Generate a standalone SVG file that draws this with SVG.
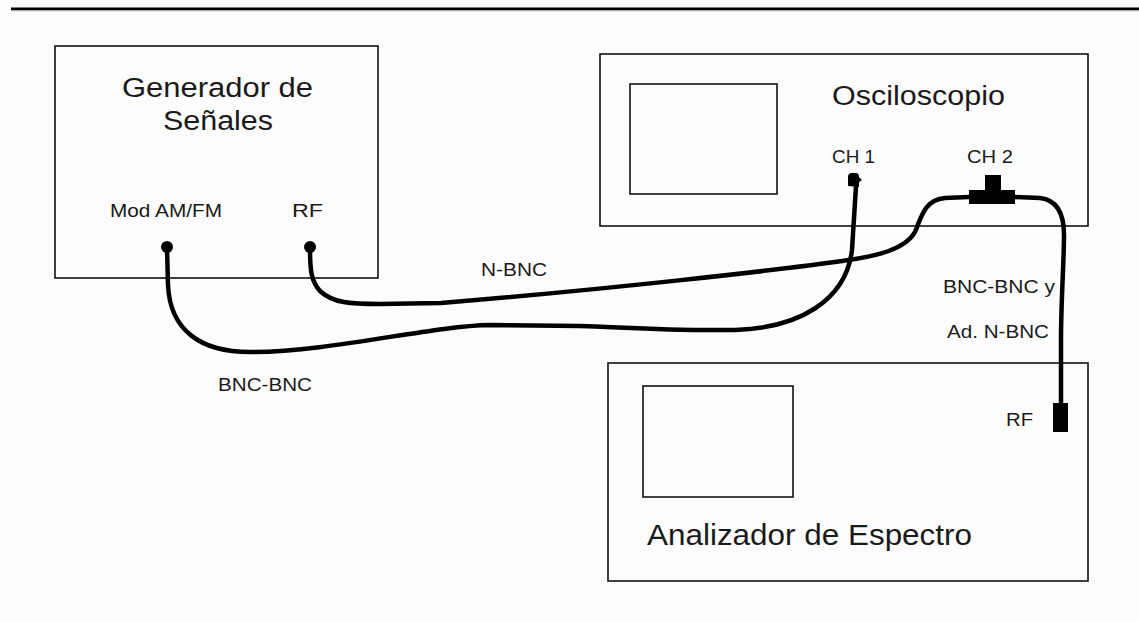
<svg xmlns="http://www.w3.org/2000/svg" width="1139" height="622" viewBox="0 0 1139 622">
<style>
.box{fill:none;stroke:#111;stroke-width:1.6}
.t{font-family:"Liberation Sans",Arial,sans-serif;fill:#1a1a1a}
.s{font-size:19px}
.b{font-size:27px}
.cable{fill:none;stroke:#000;stroke-width:4.5;stroke-linecap:round;stroke-linejoin:round}
</style>
<rect x="0" y="0" width="1139" height="622" fill="#fcfcfc"/>
<line x1="11" y1="8.7" x2="1139" y2="8.7" stroke="#000" stroke-width="2.6"/>
<line x1="11" y1="10.7" x2="1139" y2="10.7" stroke="#999" stroke-width="1"/>

<g id="generador">
<rect class="box" x="55" y="46" width="323" height="232"/>
<text class="t b" x="122" y="97" textLength="191" lengthAdjust="spacingAndGlyphs">Generador de</text>
<text class="t b" x="163" y="130" textLength="110" lengthAdjust="spacingAndGlyphs">Señales</text>
<text class="t s" x="110" y="217" textLength="112" lengthAdjust="spacingAndGlyphs">Mod AM/FM</text>
<text class="t s" x="292" y="217" textLength="31" lengthAdjust="spacingAndGlyphs">RF</text>
<circle cx="167" cy="247" r="6" fill="#000"/>
<circle cx="310" cy="247" r="6" fill="#000"/>
</g>

<g id="osciloscopio">
<rect class="box" x="600" y="54" width="488" height="172"/>
<rect class="box" x="630" y="84" width="147" height="110"/>
<text class="t b" x="832" y="105" textLength="173" lengthAdjust="spacingAndGlyphs">Osciloscopio</text>
<text class="t s" x="832" y="163" textLength="43" lengthAdjust="spacingAndGlyphs">CH 1</text>
<text class="t s" x="967" y="163" textLength="46" lengthAdjust="spacingAndGlyphs">CH 2</text>
</g>

<g id="analizador">
<rect class="box" x="608" y="363" width="480" height="218"/>
<rect class="box" x="643" y="386" width="150" height="111"/>
<text class="t" font-size="30" x="647" y="545" textLength="325" lengthAdjust="spacingAndGlyphs">Analizador de Espectro</text>
<text class="t s" x="1006" y="426" textLength="27" lengthAdjust="spacingAndGlyphs">RF</text>
</g>

<g id="connectors">
<path class="cable" d="M167,248 L168,285 C170,330 200,352 250,352 C330,352 430,326 490,325 L580,326 C620,327 660,331 735,330 C800,328 846,300 852,250 L856,186"/>
<path class="cable" d="M310,248 C310,270 311,281 320,291 C333,303 350,304 380,304 L441,303 C600,290 780,270 849,260 C875,256 905,250 915,232 C922,215 925,200 945,198 L969,197"/>
<path class="cable" d="M1014,197 L1040,198 C1058,200 1064,215 1064,235 C1064,262 1061,300 1061,340 L1061,404"/>
<path d="M848,186 L848,177 Q848,173 852,173 L856,173 Q859,173 859,177 L862,180 L859,182 L859,187 Z" fill="#000"/>
<rect x="985" y="175" width="16" height="16" fill="#000"/>
<rect x="969" y="190" width="46" height="14" fill="#000"/>
<rect x="1053" y="403" width="15" height="29" fill="#000"/>
<text class="t s" x="481" y="276" textLength="66" lengthAdjust="spacingAndGlyphs">N-BNC</text>
<text class="t s" x="218" y="391" textLength="94" lengthAdjust="spacingAndGlyphs">BNC-BNC</text>
<text class="t s" x="943" y="293" textLength="112" lengthAdjust="spacingAndGlyphs">BNC-BNC y</text>
<text class="t s" x="947" y="338" textLength="102" lengthAdjust="spacingAndGlyphs">Ad. N-BNC</text>
</g>
</svg>
